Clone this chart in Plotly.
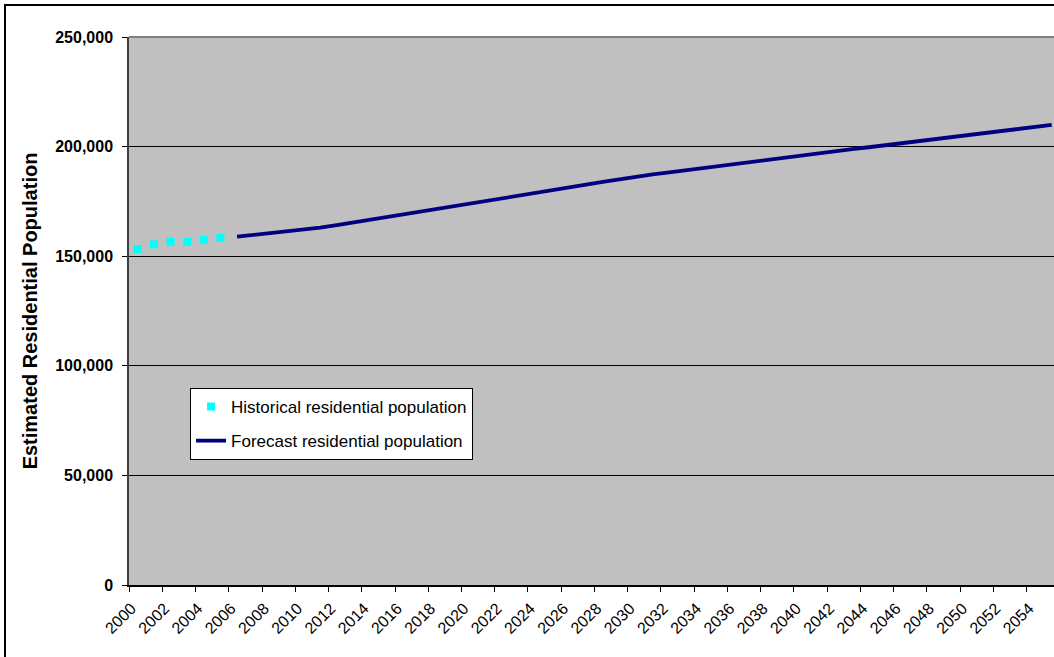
import plotly.graph_objects as go

# Estimated residential population (persons)
hist_years = [2000, 2001, 2002, 2003, 2004, 2005]
hist_pop = [153300, 155400, 156500, 156600, 157500, 158300]

fc_years = list(range(2006, 2056))
fc_pop = [
    158900, 159700, 160500, 161400, 162200, 163000,   # 2006-2011
    164200, 165400, 166600, 167900, 169100, 170300,   # 2012-2017
    171500, 172800, 174000, 175200, 176500, 177700,   # 2018-2023
    178900, 180200, 181400, 182600, 183900, 185100,   # 2024-2029
    186200, 187300, 188200, 189200, 190100, 191100,   # 2030-2035
    192100, 193000, 194000, 195000, 195900, 196900,   # 2036-2041
    197800, 198800, 199700, 200600, 201500, 202500,   # 2042-2047
    203400, 204300, 205300, 206200, 207100, 208000,   # 2048-2053
    209000, 209900,                                   # 2054-2055
]

label_years = list(range(2000, 2055, 2))
y_ticks = [0, 50000, 100000, 150000, 200000, 250000]
y_labels = ["0", "50,000", "100,000", "150,000", "200,000", "250,000"]

FONT = "Liberation Sans, Arial, sans-serif"
X_RANGE = [1999.5, 2055.14]

fig = go.Figure()

fig.add_trace(go.Scatter(
    x=hist_years, y=hist_pop, mode="markers",
    name="Historical residential population",
    marker=dict(symbol="square", size=8, color="#00FFFF", line=dict(width=0)),
    legendgroup="hist",
))
fig.add_trace(go.Scatter(
    x=fc_years, y=fc_pop, mode="lines",
    name="Forecast residential population",
    line=dict(color="#000080", width=3.8),
    legendgroup="fc",
))
# invisible trace carrying the year labels on the overlay axis
fig.add_trace(go.Scatter(
    x=[X_RANGE[0]], y=[None], xaxis="x2", showlegend=False, hoverinfo="skip",
))

fig.update_layout(
    width=1054, height=657, autosize=False,
    margin=dict(l=129, r=0, t=37, b=72, pad=0),
    paper_bgcolor="white",
    plot_bgcolor="#C0C0C0",
    font=dict(family=FONT, color="black"),
    showlegend=True,
    legend=dict(
        x=0.066, y=0.3595, xanchor="left", yanchor="top",
        bgcolor="white", bordercolor="black", borderwidth=1,
        font=dict(family=FONT, size=17, color="black"),
        traceorder="grouped", tracegroupgap=9,
    ),
    xaxis=dict(
        range=X_RANGE, showgrid=False, zeroline=False,
        tickmode="array",
        tickvals=[y - 0.5 for y in label_years] + [2055.5],
        showticklabels=False,
        ticks="outside", ticklen=5, tickcolor="black", tickwidth=1,
        showline=True, linecolor="black", linewidth=1.5,
    ),
    xaxis2=dict(
        range=X_RANGE, overlaying="x", anchor="y", side="bottom",
        showgrid=False, zeroline=False, showline=False,
        tickmode="array", tickvals=label_years,
        ticktext=[str(y) for y in label_years],
        tickangle=-45, ticks="",
        ticklabelstandoff=10, ticklabelshift=-6,
        tickfont=dict(family=FONT, size=16, color="black"),
    ),
    yaxis=dict(
        range=[0, 250000], tickmode="array", tickvals=y_ticks, ticktext=y_labels,
        showgrid=True, gridcolor="black", gridwidth=1, zeroline=False,
        ticks="outside", ticklen=5, tickcolor="black",
        showline=True, linecolor="#404040", linewidth=1.5,
        tickfont=dict(family=FONT, size=16, color="black", weight="bold"),
        ticklabelstandoff=6,
        title=dict(
            text="Estimated Residential Population",
            font=dict(family=FONT, size=20, color="black", weight="bold"),
            standoff=12,
        ),
    ),
    shapes=[
        # grey frame line along the top of the plot area
        dict(type="line", xref="paper", yref="paper", x0=0, x1=1, y0=1, y1=1,
             line=dict(color="#808080", width=2), layer="above"),
        # outer chart border
        dict(type="rect", xref="paper", yref="paper",
             x0=(5 - 129) / 925, x1=1.05, y0=-0.2, y1=(585 - 5) / 548,
             line=dict(color="black", width=2), layer="above"),
    ],
)

fig.write_html("out.html")
